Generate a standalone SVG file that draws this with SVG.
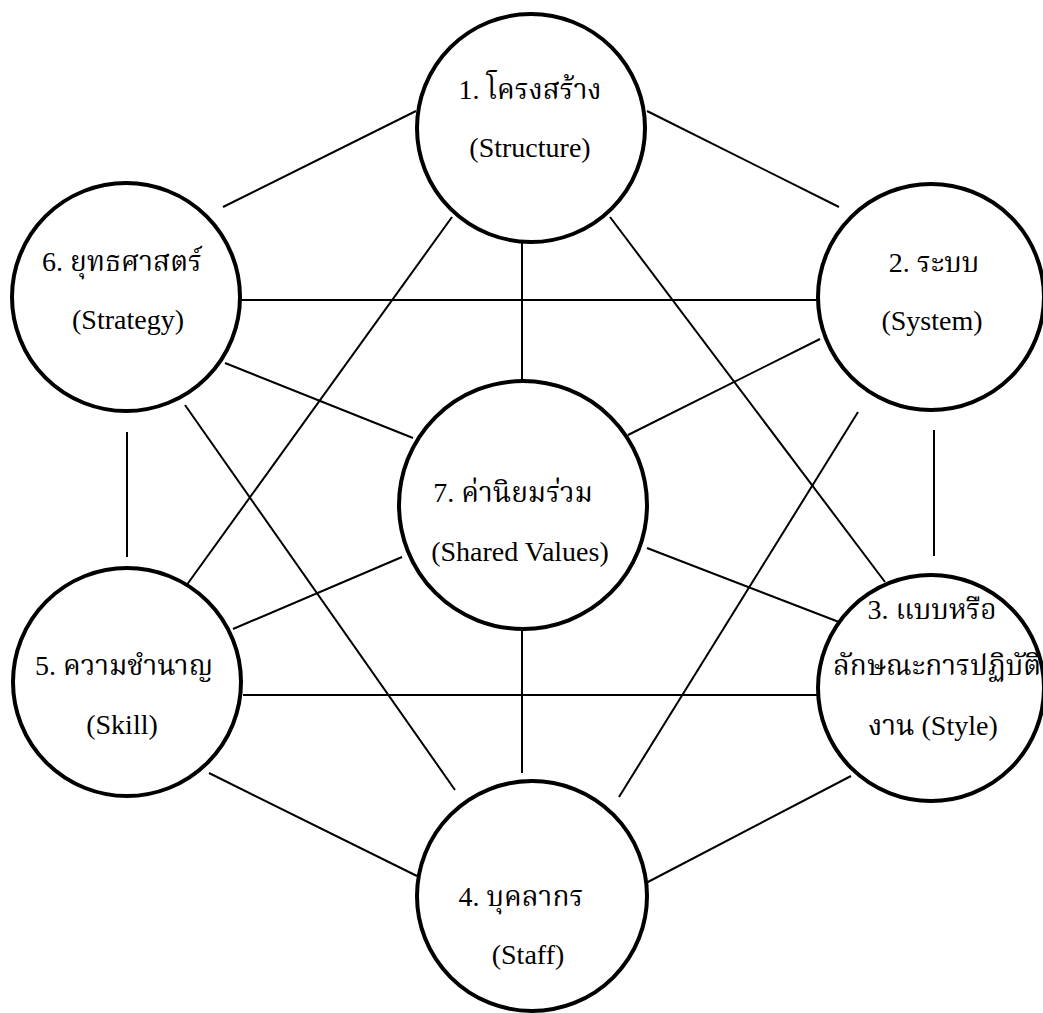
<svg xmlns="http://www.w3.org/2000/svg" width="1043" height="1013" viewBox="0 0 1043 1013">
<style>
.node{fill:#fff;stroke:#000;stroke-width:4}
.edge{stroke:#000;stroke-width:2;fill:none}
text{font-family:"Liberation Serif","Norasi","Kinnari","Laksaman","Noto Serif Thai","Noto Sans Thai","Noto Sans",serif;font-size:28px;fill:#000;text-anchor:middle}
</style>
<rect width="1043" height="1013" fill="#fff"/>
<g id="connectors">
<line class="edge" x1="416" y1="111" x2="223" y2="207"/>
<line class="edge" x1="647" y1="111" x2="839" y2="207"/>
<line class="edge" x1="241" y1="300" x2="818" y2="300"/>
<line class="edge" x1="225" y1="363" x2="413" y2="438"/>
<line class="edge" x1="820" y1="339" x2="628" y2="435"/>
<line class="edge" x1="522" y1="242" x2="522" y2="381"/>
<line class="edge" x1="452" y1="217" x2="186" y2="586"/>
<line class="edge" x1="610" y1="217" x2="885" y2="582"/>
<line class="edge" x1="185" y1="405" x2="455" y2="790"/>
<line class="edge" x1="858" y1="412" x2="619" y2="797"/>
<line class="edge" x1="127" y1="432" x2="127" y2="557"/>
<line class="edge" x1="934" y1="430" x2="934" y2="556"/>
<line class="edge" x1="402" y1="557" x2="233" y2="629"/>
<line class="edge" x1="647" y1="548" x2="839" y2="622"/>
<line class="edge" x1="243" y1="695" x2="819" y2="695"/>
<line class="edge" x1="522" y1="628" x2="522" y2="773"/>
<line class="edge" x1="209" y1="773" x2="417" y2="876"/>
<line class="edge" x1="851" y1="776" x2="646" y2="883"/>
</g>
<g id="node1">
<circle class="node" cx="531" cy="128" r="114"/>
<text x="530" y="99">1. โครงสร้าง</text>
<text x="530" y="157">(Structure)</text>
</g>
<g id="node2">
<circle class="node" cx="931" cy="297" r="113"/>
<text x="934" y="272">2. ระบบ</text>
<text x="932" y="330">(System)</text>
</g>
<g id="node3">
<circle class="node" cx="931" cy="688" r="113"/>
<text x="932" y="619">3. แบบหรือ</text>
<text x="937" y="675" textLength="208" lengthAdjust="spacingAndGlyphs">ลักษณะการปฏิบัติ</text>
<text x="933" y="735">งาน (Style)</text>
</g>
<g id="node4">
<circle class="node" cx="532" cy="896" r="115"/>
<text x="521" y="906">4. บุคลากร</text>
<text x="528" y="964">(Staff)</text>
</g>
<g id="node5">
<circle class="node" cx="127" cy="682" r="114"/>
<text x="124" y="675">5. ความชำนาญ</text>
<text x="122" y="734">(Skill)</text>
</g>
<g id="node6">
<circle class="node" cx="126" cy="297" r="114"/>
<text x="122" y="271">6. ยุทธศาสตร์</text>
<text x="128" y="329">(Strategy)</text>
</g>
<g id="node7">
<circle class="node" cx="523" cy="505" r="124"/>
<text x="513" y="502">7. ค่านิยมร่วม</text>
<text x="520" y="561">(Shared Values)</text>
</g>
</svg>
